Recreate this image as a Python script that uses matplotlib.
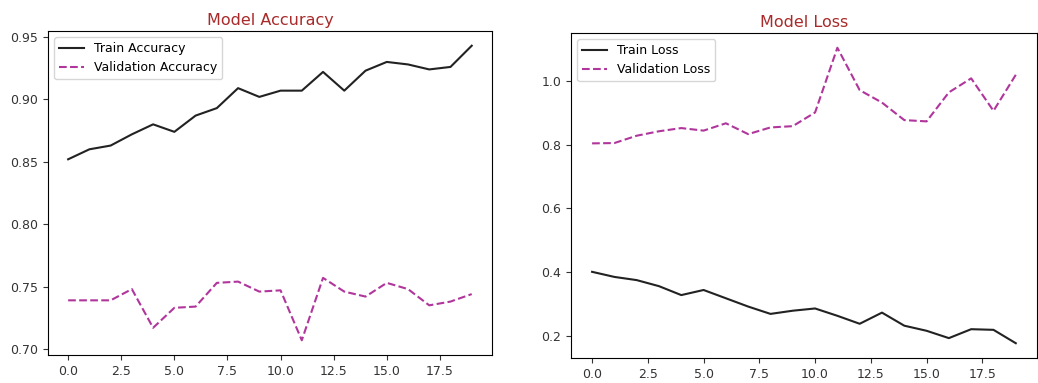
import matplotlib
matplotlib.use("Agg")
import matplotlib.pyplot as plt

epochs = list(range(20))
train_acc = [0.852, 0.860, 0.863, 0.872, 0.880, 0.874, 0.887, 0.893, 0.909, 0.902,
             0.907, 0.907, 0.922, 0.907, 0.923, 0.930, 0.928, 0.924, 0.926, 0.943]
val_acc = [0.739, 0.739, 0.739, 0.748, 0.717, 0.733, 0.734, 0.753, 0.754, 0.746,
           0.747, 0.707, 0.757, 0.746, 0.742, 0.753, 0.748, 0.735, 0.738, 0.744]
train_loss = [0.401, 0.385, 0.375, 0.356, 0.328, 0.344, 0.318, 0.292, 0.269, 0.279,
              0.286, 0.263, 0.238, 0.273, 0.232, 0.216, 0.193, 0.221, 0.219, 0.177]
val_loss = [0.804, 0.805, 0.828, 0.842, 0.852, 0.844, 0.867, 0.833, 0.854, 0.858,
            0.901, 1.104, 0.971, 0.932, 0.877, 0.873, 0.964, 1.008, 0.906, 1.019]

val_color = '#b0369c'
title_color = '#a82a2a'

fig = plt.figure(figsize=(10.38, 3.83), dpi=100)
ax1 = fig.add_axes([0.0462, 0.0731, 0.4277, 0.846])
ax2 = fig.add_axes([0.550, 0.0653, 0.449, 0.8486])

ax1.plot(epochs, train_acc, color='#222222', lw=1.5, label='Train Accuracy')
ax1.plot(epochs, val_acc, color=val_color, lw=1.5, ls='--', label='Validation Accuracy')
ax1.set_title('Model Accuracy', color=title_color, fontsize=11.5, pad=4)
ax1.legend(loc='upper left', fontsize=9)

ax2.plot(epochs, train_loss, color='#222222', lw=1.5, label='Train Loss')
ax2.plot(epochs, val_loss, color=val_color, lw=1.5, ls='--', label='Validation Loss')
ax2.set_title('Model Loss', color=title_color, fontsize=11.5, pad=4)
ax2.legend(loc='upper left', fontsize=9)

for ax in (ax1, ax2):
    ax.tick_params(labelsize=9, colors='#333333')

fig.savefig('out.png', dpi=100)
